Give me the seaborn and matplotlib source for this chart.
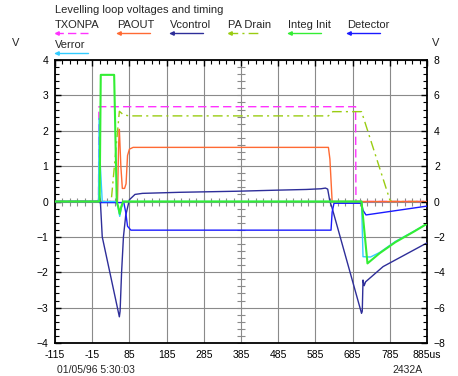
import matplotlib
matplotlib.use("Agg")
import matplotlib.pyplot as plt
from matplotlib.lines import Line2D
from matplotlib.ticker import MultipleLocator, AutoMinorLocator, FixedLocator, FixedFormatter
import numpy as np
import pandas as pd
import seaborn as sns

# --- data (time in us, volts on left scale) ---
tx_t = [-115, 2, 3, 693, 694, 885]
tx_v = [0, 0, 2.68, 2.68, 0, 0]

paout_t = [-115, 53, 56, 58, 62, 66, 72, 76, 80, 85, 95, 620, 624, 630, 885]
paout_v = [0, 0, 1.6, 2.04, 1.0, 0.37, 0.37, 0.5, 1.3, 1.48, 1.53, 1.53, 1.2, 0, 0]

vcon_t = [-115, 2, 4, 7, 12, 58, 60, 64, 69, 75, 85, 100, 120, 220, 373, 480, 560,
          600, 612, 618, 624, 629, 709, 711, 713, 716, 720, 767, 885]
vcon_v = [0, 0, 0.2, 0.0, -1.0, -3.26, -3.1, -2.0, -1.0, -0.4, 0.05, 0.2, 0.23, 0.26,
          0.29, 0.32, 0.34, 0.36, 0.38, 0.35, 0.0, -0.15, -3.16, -3.1, -2.22, -2.38,
          -2.27, -1.84, -1.17]

drain_t = [-115, 36, 51, 58, 69, 85, 620, 632, 709, 785, 790, 885]
drain_v = [0, 0, 1.73, 2.55, 2.45, 2.42, 2.42, 2.54, 2.54, 0.05, 0, 0]

integ_t = [-115, 5, 8, 44, 51, 55, 59, 63, 68, 75, 709, 725, 758, 800, 850, 885]
integ_v = [0, 0, 3.58, 3.58, 0.0, -0.15, -0.35, -0.15, 0, 0, 0, -1.75, -1.46, -1.15,
           -0.85, -0.63]

det_t = [-115, 2, 3, 5, 70, 75, 80, 89, 627, 630, 635, 709, 713, 721, 885]
det_v = [0, 0, 0.25, -0.03, -0.03, -0.3, -0.7, -0.81, -0.81, -0.3, -0.05, -0.05,
         -0.25, -0.38, -0.13]

verr_t = [-115, 2, 3.5, 7, 12, 50, 55, 59, 63, 68, 75, 709, 713, 733, 758, 800, 850, 885]
verr_v = [0, 0, 2.35, 1.0, 0, 0, -0.2, -0.42, -0.2, 0, 0, 0, -1.56, -1.57, -1.44,
          -1.13, -0.84, -0.63]

names = ["TXONPA", "PAOUT", "Vcontrol", "PA Drain", "Integ Init", "Detector", "Verror"]
colors = ["#ff33ff", "#ff6a33", "#2e2e99", "#99cc11", "#33ee33", "#1a1aff", "#33ccff"]
x_ticks = [-115, -15, 85, 185, 285, 385, 485, 585, 685, 785, 885]
x_labels = ["-115", "-15", "85", "185", "285", "385", "485", "585", "685", "785", "885us"]

traces = {
    "TXONPA": (tx_t, tx_v), "PAOUT": (paout_t, paout_v), "Vcontrol": (vcon_t, vcon_v),
    "PA Drain": (drain_t, drain_v), "Integ Init": (integ_t, integ_v),
    "Detector": (det_t, det_v), "Verror": (verr_t, verr_v),
}
dashes = {"TXONPA": (6, 3), "PA Drain": (7, 3, 1.5, 3)}
draw_order = ["TXONPA", "PA Drain", "PAOUT", "Vcontrol", "Detector", "Verror", "Integ Init"]

sns.set_style("white")
plt.rcParams["font.family"] = ["Liberation Sans", "DejaVu Sans"]
FS = 8
FS_TICK = 7.5
W, H = 458, 376

fig = plt.figure(figsize=(W / 100, H / 100), dpi=100)
ax = fig.add_axes([55 / W, 1 - 343 / H, 372 / W, 283 / H])

# grid
for xt in x_ticks:
    ax.axvline(xt, color="#8a8a8a", lw=0.8, zorder=0)
for yt in range(-4, 5):
    ax.axhline(yt, color="#8a8a8a", lw=0.8, zorder=0)
# centre cross graticule
ax.plot(np.full(41, 385), np.arange(-4, 4.01, 0.2), ls="", marker="_", ms=6,
        color="#8a8a8a", mew=0.8, zorder=0)
ax.plot(np.arange(-115, 886, 20), np.zeros(51), ls="", marker="|", ms=6,
        color="#8a8a8a", mew=0.8, zorder=0)

for i, n in enumerate(draw_order):
    t, v = traces[n]
    df = pd.DataFrame({"t": t, "v": v})
    sns.lineplot(data=df, x="t", y="v", ax=ax, color=colors[names.index(n)],
                 lw=1.5 if n == "Integ Init" else 1.0, estimator=None, sort=False,
                 zorder=3 + i)
    if n in dashes:
        ax.lines[-1].set_dashes(dashes[n])

ax.set_xlim(-115, 885)
ax.set_ylim(-4, 4)
ax.set_xlabel("")
ax.set_ylabel("")
ax.xaxis.set_major_locator(FixedLocator(x_ticks))
ax.xaxis.set_major_formatter(FixedFormatter(x_labels))
ax.xaxis.set_minor_locator(AutoMinorLocator(5))
ax.yaxis.set_major_locator(MultipleLocator(1))
ax.yaxis.set_minor_locator(AutoMinorLocator(5))
ax.tick_params(which="both", direction="in", top=True, right=True, colors="black",
               labelsize=FS_TICK)
ax.tick_params(which="major", length=4, width=1)
ax.tick_params(which="minor", length=3, width=0.8)
ax.tick_params(axis="x", pad=5)
ax.tick_params(axis="y", pad=5)
for s in ax.spines.values():
    s.set_color("black")
    s.set_linewidth(1.3)

ax2 = ax.twinx()
ax2.set_ylim(-8, 8)
ax2.yaxis.set_major_locator(MultipleLocator(2))
ax2.yaxis.set_minor_locator(AutoMinorLocator(5))
ax2.tick_params(which="both", direction="in", labelsize=FS_TICK, pad=5, colors="black")
ax2.tick_params(which="major", length=4, width=1)
ax2.tick_params(which="minor", length=3, width=0.8)
for s in ax2.spines.values():
    s.set_visible(False)


def fx(px):
    return px / W


def fy(py):
    return 1 - py / H


fig.text(fx(55), fy(10), "Levelling loop voltages and timing", fontsize=FS, va="center")
fig.text(fx(16), fy(43), "V", fontsize=FS, va="center", ha="center")
fig.text(fx(436), fy(43), "V", fontsize=FS, va="center", ha="center")
fig.text(fx(57), fy(370), "01/05/96 5:30:03", fontsize=FS_TICK, va="center")
fig.text(fx(423), fy(370), "2432A", fontsize=FS_TICK, va="center", ha="right")

# legend entries laid out like the scope header
leg_x = [55, 117, 170, 228, 288, 347, 55]
leg_y = [25, 25, 25, 25, 25, 25, 45]
for n, c, lx, ly in zip(names, colors, leg_x, leg_y):
    fig.text(fx(lx), fy(ly), n, fontsize=FS, va="center")
    ln = Line2D([fx(lx), fx(lx + 33)], [fy(ly + 8), fy(ly + 8)], color=c, lw=1.0,
                transform=fig.transFigure)
    if n in dashes:
        ln.set_dashes(dashes[n])
    fig.add_artist(ln)
    fig.add_artist(Line2D([fx(lx + 1.5)], [fy(ly + 8)], color=c, marker="<", ms=2.5,
                          transform=fig.transFigure))

fig.savefig("out.png", dpi=100, facecolor="white")
